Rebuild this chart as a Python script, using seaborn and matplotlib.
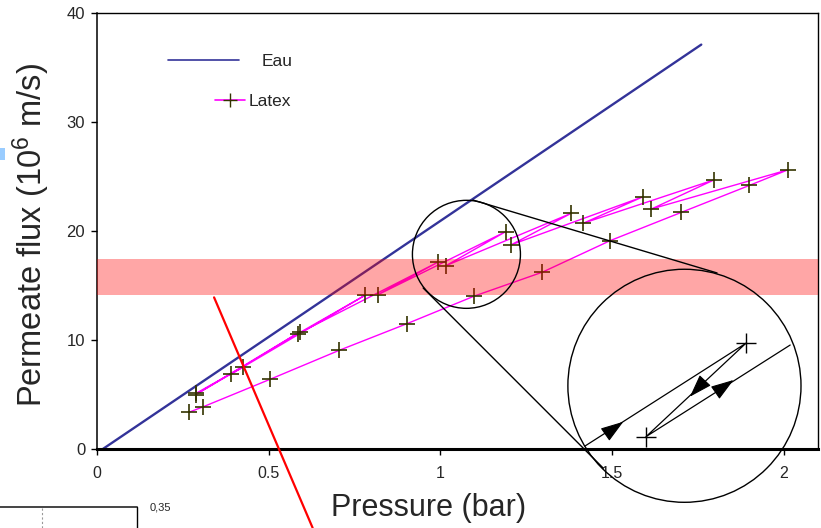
import numpy as np
import pandas as pd
import matplotlib
matplotlib.use("Agg")
import matplotlib.pyplot as plt
from matplotlib.patches import Ellipse, Rectangle
from matplotlib.lines import Line2D
import seaborn as sns

# Clean water permeability line (Eau)
eau_pressure = [0.017, 1.76]
eau_flux = [0.0, 37.1]

# Latex filtration run, points in measurement order
latex_pressure = [0.288, 0.425, 0.288, 0.590, 0.390, 0.780, 0.585, 0.993, 0.818,
                  1.191, 1.017, 1.381, 1.206, 1.591, 1.416, 1.798, 1.615, 2.013,
                  1.900, 1.702, 1.495, 1.297, 1.099, 0.903, 0.706, 0.503, 0.309, 0.267]
latex_flux = [5.10, 7.53, 5.00, 10.73, 6.86, 14.09, 10.58, 17.14, 14.15,
              19.95, 16.83, 21.62, 18.73, 23.15, 20.71, 24.70, 22.02, 25.62,
              24.18, 21.71, 19.12, 16.22, 14.03, 11.50, 9.06, 6.38, 3.87, 3.36]

# Critical flux band
band_low, band_high = 14.1, 17.4

x_ticks = [0, 0.5, 1, 1.5, 2]
x_tick_labels = ["0", "0.5", "1", "1.5", "2"]
y_ticks = [0, 10, 20, 30, 40]

sns.set_theme(style="white")
plt.rcParams["font.family"] = ["Liberation Sans", "DejaVu Sans"]
plt.rcParams["mathtext.fontset"] = "custom"
plt.rcParams["mathtext.rm"] = "Liberation Sans"
plt.rcParams["mathtext.it"] = "Liberation Sans:italic"

fig = plt.figure(figsize=(8.21, 5.28), dpi=100)
ax = fig.add_axes([97 / 821, 1 - 449 / 528, 721 / 821, 436 / 528])

eau = pd.DataFrame({"p": eau_pressure, "j": eau_flux})
latex = pd.DataFrame({"p": latex_pressure, "j": latex_flux})

sns.lineplot(data=eau, x="p", y="j", ax=ax, color="#333399", lw=1.7,
             sort=False, estimator=None, zorder=2)
sns.lineplot(data=latex, x="p", y="j", ax=ax, color="#ff00ff", lw=1.0,
             sort=False, estimator=None, zorder=2)
ax.scatter(latex["p"], latex["j"], marker="+", s=140, color="#333300",
           linewidths=1.2, zorder=2.5)

ax.axhspan(band_low, band_high, color="red", alpha=0.35, lw=0, zorder=3)

ax.set_xlim(0, 2.1)
ax.set_ylim(0, 40)
ax.set_xticks(x_ticks)
ax.set_xticklabels(x_tick_labels)
ax.set_yticks(y_ticks)
ax.tick_params(axis="both", which="major", direction="out", length=4.5,
               width=1, color="black", bottom=True, left=True)
ax.tick_params(axis="x", labelsize=11.5, pad=8)
ax.tick_params(axis="y", labelsize=12, pad=4)
ax.set_xlabel("Pressure (bar)", fontsize=22)
ax.xaxis.set_label_coords(0.46, -0.102)
ax.set_ylabel("Permeate flux (10$^6$ m/s)", fontsize=23.5)
ax.yaxis.set_label_coords(-0.063, 0.49)

for side, w in {"bottom": 2.2, "left": 1.1, "top": 1.0, "right": 1.0}.items():
    ax.spines[side].set_visible(True)
    ax.spines[side].set_color("black")
    ax.spines[side].set_linewidth(w)

# Legends
h_eau = Line2D([], [], color="#333399", lw=1.2)
h_latex = Line2D([], [], color="#ff00ff", lw=1.2, marker="+", ms=10,
                 mec="#333300", mew=1.0)
leg1 = ax.legend([h_eau], ["Eau"], loc="center left",
                 bbox_to_anchor=(0.0985, 0.888), frameon=False, fontsize=12.5,
                 handlelength=4.1, handletextpad=1.3, borderpad=0,
                 borderaxespad=0)
ax.add_artist(leg1)
ax.legend([h_latex], ["Latex"], loc="center left",
          bbox_to_anchor=(0.1637, 0.7966), frameon=False, fontsize=12.5,
          handlelength=1.7, handletextpad=0.25, borderpad=0, borderaxespad=0)

# Zoom circles and connecting lines
ax.add_patch(Ellipse((1.076, 17.86), 0.3146, 9.91, fill=False, ec="black",
                     lw=1.0, zorder=4))
ax.add_patch(Ellipse((1.711, 5.80), 0.679, 21.38, fill=False, ec="black",
                     lw=1.0, zorder=4, clip_on=False))
ax.plot([1.095, 1.806], [22.84, 16.15], color="black", lw=1.0, zorder=4)
ax.plot([0.950, 1.474], [14.77, -1.74], color="black", lw=1.0, zorder=4,
        clip_on=False)

# Schematic cycle inside the magnified view
ax.plot([1.4215, 1.890, 1.599, 2.019], [0.275, 9.70, 1.13, 9.54],
        color="black", lw=0.9, zorder=4)
ax.scatter([1.890, 1.599], [9.70, 1.13], marker="+", s=190, color="black",
           linewidths=1.0, zorder=4)
for base, tip in [((1.485, 1.44), (1.533, 2.50)),
                  ((1.768, 6.18), (1.727, 4.80)),
                  ((1.805, 5.26), (1.854, 6.33))]:
    ax.annotate("", xy=tip, xytext=base,
                arrowprops=dict(arrowstyle="-|>,head_length=0.9,head_width=0.3",
                                color="black", lw=0.8, shrinkA=0, shrinkB=0,
                                mutation_scale=16), zorder=5)

# Red marker line
ax.plot([0.341, 0.628], [13.91, -7.23], color="red", lw=1.6, zorder=4,
        clip_on=False)

# Neighbouring figure fragments
fig.add_artist(Line2D([0, 137 / 821], [1 - 506.7 / 528, 1 - 506.7 / 528],
                      color="#444444", lw=1.4, transform=fig.transFigure))
fig.add_artist(Line2D([137 / 821, 137 / 821], [1 - 506.7 / 528, 0],
                      color="black", lw=1.0, transform=fig.transFigure))
fig.add_artist(Line2D([42 / 821, 42 / 821], [1 - 508 / 528, 0],
                      color="#999999", lw=0.8, ls=(0, (2, 2)),
                      transform=fig.transFigure))
fig.text(150 / 821, 1 - 508 / 528, "0,35", fontsize=8, va="center",
         ha="left")
fig.add_artist(Rectangle((0, 1 - 160 / 528), 5 / 821, 12 / 528,
                         color="#99ccff", lw=0, transform=fig.transFigure))

fig.savefig("out.png", dpi=100)
